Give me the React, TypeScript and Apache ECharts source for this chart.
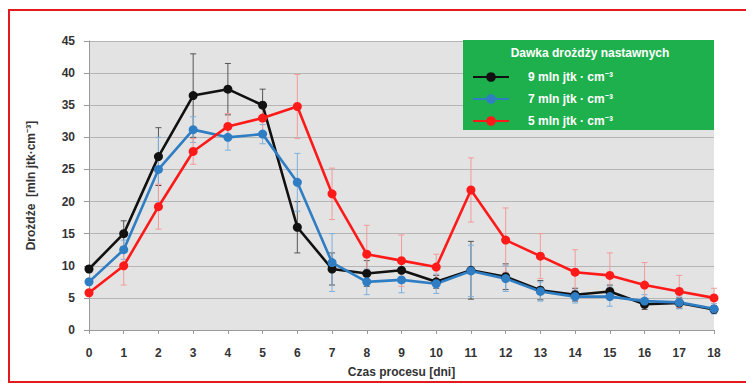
import React, { useEffect, useRef } from "react";
import * as echarts from "echarts";

const days = [0, 1, 2, 3, 4, 5, 6, 7, 8, 9, 10, 11, 12, 13, 14, 15, 16, 17, 18];
const seriesNames = ["9 mln jtk · cm⁻³", "7 mln jtk · cm⁻³", "5 mln jtk · cm⁻³"];
const dose9 = [9.5, 15, 27, 36.5, 37.5, 35, 16, 9.5, 8.8, 9.3, 7.5, 9.3, 8.3, 6.2, 5.5, 6, 4, 4.2, 3.2];
const dose7 = [7.5, 12.5, 25, 31.2, 30, 30.5, 23, 10.5, 7.5, 7.8, 7.2, 9.2, 8, 6, 5.2, 5.2, 4.5, 4.3, 3.3];
const dose5 = [5.8, 10, 19.2, 27.8, 31.7, 33, 34.8, 21.2, 11.8, 10.8, 9.8, 21.8, 14, 11.5, 9, 8.5, 7, 6, 5];
const err9 = [0.5, 2, 4.5, 6.5, 4, 2.5, 4, 2.5, 2, 1.5, 1, 4.5, 2, 1.5, 1, 1, 0.8, 0.8, 0.6];
const err7 = [0.5, 1.5, 5, 2, 2, 1.5, 4.5, 4.5, 2, 2, 1.5, 4, 2, 1.5, 1, 1.5, 1, 1, 0.8];
const err5 = [0.5, 3, 3.5, 2, 2, 2.5, 5, 4, 4.5, 4, 2, 5, 5, 3.5, 3.5, 3.5, 3.5, 2.5, 1.5];
const yTicks = [0, 5, 10, 15, 20, 25, 30, 35, 40, 45];

const lineColors = ["#111111", "#2f7ec4", "#ff1a1a"];
const errColors = ["#555555", "#7fb0dd", "#f49a9a"];

export default function App() {
  const ref = useRef<HTMLDivElement>(null);
  useEffect(() => {
    document.body.style.margin = "0";
    if (!ref.current) return;
    const chart = echarts.init(ref.current, null, { renderer: "svg" });
    const font = "'Liberation Sans Narrow', 'Liberation Sans', 'Noto Sans', sans-serif";
    const values = [dose9, dose7, dose5];
    const errs = [err9, err7, err5];

    const errSeries = values.map((vals, i) => ({
      type: "custom",
      name: "err" + i,
      z: 2,
      silent: true,
      encode: { x: 0, y: 1 },
      data: days.map((d, k) => [d, vals[k], errs[i][k]]),
      renderItem: (params: any, api: any) => {
        const x = api.value(0);
        const y = api.value(1);
        const e = api.value(2);
        const top = api.coord([x, y + e]);
        const bot = api.coord([x, Math.max(0, y - e)]);
        const cap = 3;
        const st = { stroke: errColors[i], lineWidth: 1 };
        return {
          type: "group",
          children: [
            { type: "line", shape: { x1: top[0], y1: top[1], x2: bot[0], y2: bot[1] }, style: st },
            { type: "line", shape: { x1: top[0] - cap, y1: top[1], x2: top[0] + cap, y2: top[1] }, style: st },
            { type: "line", shape: { x1: bot[0] - cap, y1: bot[1], x2: bot[0] + cap, y2: bot[1] }, style: st },
          ],
        };
      },
    }));

    const lineSeries = values.map((vals, i) => ({
      type: "line",
      name: seriesNames[i],
      z: 3,
      data: days.map((d, k) => [d, vals[k]]),
      symbol: "circle",
      symbolSize: 9,
      lineStyle: { color: lineColors[i], width: 2.6 },
      itemStyle: { color: lineColors[i] },
    }));

    chart.setOption({
      animation: false,
      grid: {
        left: 89,
        right: 32,
        top: 41,
        bottom: 55,
        show: true,
        backgroundColor: "#e3e3e3",
        borderWidth: 0,
      },
      xAxis: {
        type: "value",
        min: 0,
        max: 18,
        interval: 1,
        name: "Czas procesu [dni]",
        nameLocation: "middle",
        nameGap: 36,
        nameTextStyle: { fontFamily: font, fontSize: 12, fontWeight: "bold", color: "#333" },
        axisLine: { show: true, lineStyle: { color: "#999" } },
        axisTick: { show: true, length: 4, lineStyle: { color: "#999" } },
        axisLabel: { margin: 17, fontFamily: font, fontSize: 12, fontWeight: "bold", color: "#333" },
        splitLine: { show: false },
      },
      yAxis: {
        type: "value",
        min: 0,
        max: 45,
        interval: 5,
        name: "Drożdże  [mln jtk·cm⁻³]",
        nameLocation: "middle",
        nameGap: 52,
        nameTextStyle: { fontFamily: font, fontSize: 12, fontWeight: "bold", color: "#333" },
        axisLine: { show: true, lineStyle: { color: "#999" } },
        axisTick: { show: true, length: 5, lineStyle: { color: "#999" } },
        axisLabel: {
          margin: 14,
          fontFamily: font,
          fontSize: 12,
          fontWeight: "bold",
          color: "#333",
          formatter: (v: number) => (yTicks.includes(v) ? String(v) : ""),
        },
        splitLine: { show: true, lineStyle: { color: "#b5b5b5", width: 1 } },
      },
      legend: {
        data: seriesNames,
        orient: "vertical",
        left: 467,
        top: 66,
        itemWidth: 36,
        itemHeight: 12,
        itemGap: 10,
        z: 10,
        textStyle: { fontFamily: font, fontSize: 12, fontWeight: "bold", color: "#fff", padding: [0, 0, 0, 14] },
      },
      graphic: [
        {
          type: "rect",
          z: 0,
          shape: { x: 9, y: 10, width: 760, height: 372 },
          style: { fill: "none", stroke: "#e21b1b", lineWidth: 2 },
        },
        {
          type: "rect",
          z: 5,
          shape: { x: 463, y: 40, width: 251, height: 90 },
          style: { fill: "#1fb04e" },
        },
        {
          type: "text",
          z: 6,
          x: 590,
          y: 53,
          style: {
            text: "Dawka drożdży nastawnych",
            fill: "#ffffff",
            font: "bold 12px " + font,
            textAlign: "center",
            textVerticalAlign: "middle",
          },
        },
      ],
      series: [...errSeries, ...lineSeries],
    });
    return () => chart.dispose();
  }, []);
  return <div ref={ref} style={{ width: 746, height: 385 }} />;
}
